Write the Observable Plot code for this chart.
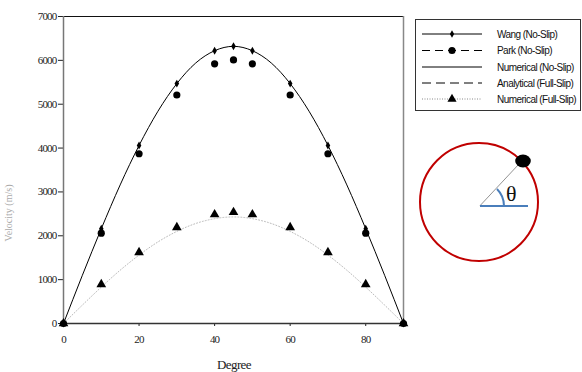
<!DOCTYPE html>
<html>
<head>
<meta charset="utf-8">
<script src="https://cdn.jsdelivr.net/npm/d3@7"></script>
<script src="https://cdn.jsdelivr.net/npm/@observablehq/plot@0.6"></script>
<style>
  html, body { margin: 0; padding: 0; background: #fff; }
  #chart { position: relative; width: 582px; height: 372px; overflow: hidden; }
  g[aria-label="y-axis tick label"] text, g[aria-label="x-axis tick label"] text { letter-spacing: -0.8px; }
</style>
</head>
<body>
<div id="chart"></div>
<script>
// ---- data ----
const degrees = [0, 10, 20, 30, 40, 45, 50, 60, 70, 80, 90];
const wangNoSlip = [0, 2160, 4060, 5470, 6220, 6320, 6220, 5470, 4060, 2160, 0];
const parkNoSlip = [0, 2060, 3870, 5210, 5920, 6010, 5920, 5210, 3870, 2060, 0];
const numericalFullSlipPts = [0, 890, 1620, 2190, 2485, 2535, 2485, 2190, 1620, 890, 0];

const curveDegrees = [0, 5, 10, 15, 20, 25, 30, 35, 40, 45, 50, 55, 60, 65, 70, 75, 80, 85, 90];
const numericalNoSlip = [0, 1100, 2160, 3160, 4060, 4840, 5470, 5940, 6220, 6320, 6220, 5940, 5470, 4840, 4060, 3160, 2160, 1100, 0];
const numericalFullSlipCurve = [0, 420, 830, 1215, 1560, 1860, 2100, 2280, 2390, 2430, 2390, 2280, 2100, 1860, 1560, 1215, 830, 420, 0];

const legendLabels = ["Wang (No-Slip)", "Park (No-Slip)", "Numerical (No-Slip)", "Analytical (Full-Slip)", "Numerical (Full-Slip)"];
const yTicks = [0, 1000, 2000, 3000, 4000, 5000, 6000, 7000];
const xTicks = [0, 20, 40, 60, 80];
const xLabel = "Degree";
const yLabel = "Velocity (m/s)";

// ---- tables ----
const wang = degrees.map((d, i) => ({deg: d, v: wangNoSlip[i]}));
const park = degrees.map((d, i) => ({deg: d, v: parkNoSlip[i]}));
const fullPts = degrees.map((d, i) => ({deg: d, v: numericalFullSlipPts[i]}));
const noSlipCurve = curveDegrees.map((d, i) => ({deg: d, v: numericalNoSlip[i]}));
const fullCurve = curveDegrees.map((d, i) => ({deg: d, v: numericalFullSlipCurve[i]}));

const serif = "'Liberation Serif', 'Times New Roman', serif";

const plot = Plot.plot({
  width: 582, height: 372,
  marginLeft: 63, marginRight: 179, marginTop: 16, marginBottom: 49,
  style: {fontFamily: serif, fontSize: "11px", background: "white", color: "#222"},
  x: {domain: [0, 90], ticks: xTicks, tickSize: 3, tickPadding: 9, label: null, tickFormat: d => String(d)},
  y: {domain: [0, 7000], ticks: yTicks, tickSize: 5, tickPadding: 2, label: null, tickFormat: d => String(d)},
  marks: [
    Plot.ruleY([7000], {stroke: "#111", strokeWidth: 1.2}),
    Plot.ruleX([90], {stroke: "#888", strokeWidth: 1.5}),
    Plot.ruleX([0], {stroke: "#777", strokeWidth: 1.5}),
    Plot.ruleY([0], {stroke: "#333", strokeWidth: 1.5}),
    Plot.line(fullCurve, {x: "deg", y: "v", stroke: "#bbb", strokeWidth: 1, strokeDasharray: "1,2", curve: "natural"}),
    Plot.line(noSlipCurve, {x: "deg", y: "v", stroke: "#000", strokeWidth: 1, curve: "natural"}),
    Plot.dot(park, {x: "deg", y: "v", r: 3.6, fill: "#000", stroke: "none"}),
    Plot.dot(wang, {x: "deg", y: "v", r: 2.4, symbol: "diamond", fill: "#000", stroke: "none"}),
    Plot.dot(fullPts, {x: "deg", y: "v", r: 3.6, symbol: "triangle", fill: "#000", stroke: "none"})
  ]
});

document.getElementById("chart").appendChild(plot);
const svg = d3.select(plot);

// axis titles
svg.append("text").attr("x", 234).attr("y", 369)
  .attr("text-anchor", "middle").attr("font-family", serif).attr("font-size", 13)
  .attr("letter-spacing", "-0.6").attr("fill", "#222").text(xLabel);
svg.append("text").attr("transform", "translate(12,213) rotate(-90)")
  .attr("text-anchor", "middle").attr("font-family", serif).attr("font-size", 10)
  .attr("fill", "#aaa").text(yLabel);

// legend
const sans = "'Liberation Sans', Arial, sans-serif";
const lg = svg.append("g");
lg.append("rect").attr("x", 415.5).attr("y", 19.5).attr("width", 165).attr("height", 91)
  .attr("fill", "white").attr("stroke", "#333").attr("stroke-width", 1);
const rowsY = [34, 50.5, 67, 83, 99];
const dashes = [null, "8,5", null, "9,5", "1,1.5"];
const lineColors = ["#000", "#000", "#000", "#000", "#888"];
legendLabels.forEach((lab, i) => {
  const y = rowsY[i];
  lg.append("line").attr("x1", 422).attr("x2", 482).attr("y1", y).attr("y2", y)
    .attr("stroke", lineColors[i]).attr("stroke-width", 1)
    .attr("stroke-dasharray", dashes[i]);
  lg.append("text").attr("x", 497).attr("y", y + 3.6).attr("font-family", sans)
    .attr("text-anchor", "start")
    .attr("font-size", 10).attr("letter-spacing", "-0.55").attr("fill", "#111").text(lab);
});
lg.append("path").attr("d", d3.symbol(d3.symbolDiamond, 16)()).attr("transform", `translate(452,${rowsY[0]})`).attr("fill", "#000");
lg.append("circle").attr("cx", 452).attr("cy", rowsY[1]).attr("r", 3.6).attr("fill", "#000");
lg.append("path").attr("d", d3.symbol(d3.symbolTriangle, 36)()).attr("transform", `translate(452,${rowsY[4]})`).attr("fill", "#000");

// schematic: circle with angle theta
const dg = svg.append("g");
dg.append("circle").attr("cx", 479).attr("cy", 202).attr("r", 59)
  .attr("fill", "none").attr("stroke", "#c00000").attr("stroke-width", 2);
dg.append("line").attr("x1", 480).attr("y1", 205.7).attr("x2", 519).attr("y2", 164)
  .attr("stroke", "#777").attr("stroke-width", 0.8);
dg.append("line").attr("x1", 480).attr("y1", 206).attr("x2", 528).attr("y2", 206)
  .attr("stroke", "#4a7ebb").attr("stroke-width", 2);
const arc = d3.arc().innerRadius(24).outerRadius(24).startAngle(Math.PI / 4).endAngle(Math.PI / 2);
dg.append("path").attr("d", arc()).attr("transform", "translate(480,206)")
  .attr("fill", "none").attr("stroke", "#4a7ebb").attr("stroke-width", 2);
dg.append("ellipse").attr("cx", 523).attr("cy", 161).attr("rx", 7.8).attr("ry", 6.5).attr("fill", "#000");
dg.append("text").attr("x", 506).attr("y", 201).attr("font-family", serif).attr("font-size", 22)
  .attr("text-anchor", "start").attr("fill", "#111").text("θ");
</script>
</body>
</html>
